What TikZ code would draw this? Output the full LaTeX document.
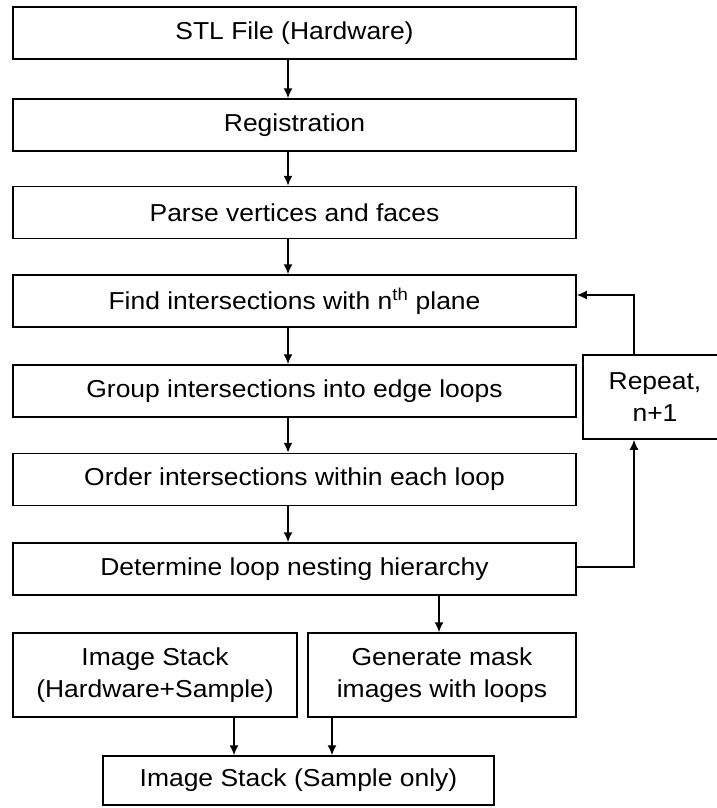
\documentclass[tikz,border=0pt]{standalone}
\usepackage{fontspec}
\setmainfont{Liberation Sans}[FakeStretch=1.08]
\usetikzlibrary{arrows.meta}

\begin{document}
\begin{tikzpicture}[x=1pt,y=-1pt,
	box/.style={draw,line width=1.5pt,inner sep=0pt,align=center,
		font=\fontsize{24.5}{31.5}\selectfont},
	wide/.style={box,minimum width=563pt,minimum height=52pt},
	flow/.style={-{Latex[length=10pt,width=9pt]},line width=1.6pt}]
\useasboundingbox (0,0) rectangle (716,808);

\path (294.5,33) node[wide] (stl) {STL File (Hardware)}
		(294.5,125) node[wide] (reg) {Registration}
		(294.5,212.5) node[wide] (parse) {Parse vertices and faces}
		(294.5,301) node[wide] (find) {Find intersections with n\textsuperscript{th} plane}
		(294.5,391) node[wide] (group) {Group intersections into edge loops}
		(294.5,479.5) node[wide] (order) {Order intersections within each loop}
		(294.5,569) node[wide] (det) {Determine loop nesting hierarchy}
		(655,397) node[box,minimum width=144pt,minimum height=84pt] (rep) {Repeat,\\n+1}
		(155,675) node[box,minimum width=284pt,minimum height=84pt] (hw) {Image Stack\\(Hardware+Sample)}
		(442,675) node[box,minimum width=268pt,minimum height=84pt] (mask) {Generate mask\\images with loops}
		(298.5,780.5) node[box,minimum width=391pt,minimum height=49pt] (samp) {Image Stack (Sample only)}
		;

\draw[flow] ([xshift=-6.5pt]stl.south) -- ([xshift=-6.5pt]reg.north);
\draw[flow] ([xshift=-6.5pt]reg.south) -- ([xshift=-6.5pt]parse.north);
\draw[flow] ([xshift=-6.5pt]parse.south) -- ([xshift=-6.5pt]find.north);
\draw[flow] ([xshift=-6.5pt]find.south) -- ([xshift=-6.5pt]group.north);
\draw[flow] ([xshift=-6.5pt]group.south) -- ([xshift=-6.5pt]order.north);
\draw[flow] ([xshift=-6.5pt]order.south) -- ([xshift=-6.5pt]det.north);
\draw[flow] ([xshift=-3pt]mask.north |- det.south) -- ([xshift=-3pt]mask.north);
\draw[flow] ([xshift=-64.5pt]samp.north |- hw.south) -- ([xshift=-64.5pt]samp.north);
\draw[flow] ([xshift=33.5pt]samp.north |- mask.south) -- ([xshift=33.5pt]samp.north);

\draw[flow] ([yshift=2pt]det.east) -| ([xshift=-21pt]rep.south);
\draw[flow] ([xshift=-21pt]rep.north) |- ([yshift=6pt]find.east);
\end{tikzpicture}
\end{document}
